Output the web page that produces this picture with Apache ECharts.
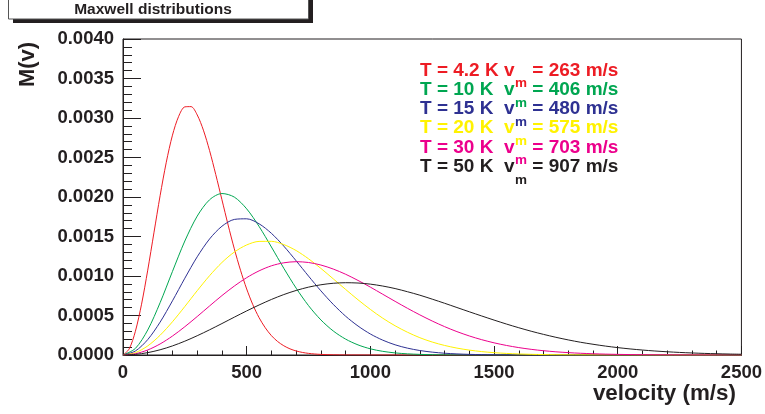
<!DOCTYPE html>
<html>
<head>
<meta charset="utf-8">
<script src="https://cdn.jsdelivr.net/npm/echarts@6/dist/echarts.min.js"></script>
<style>
  html, body { margin: 0; padding: 0; background: #fff; }
  #chart { width: 765px; height: 414px; }
</style>
</head>
<body>
<div id="chart"></div>
<script>
// Speeds (m/s) at which the distributions are sampled
const velocity = [
  0, 50, 100, 150, 200, 250, 300, 350, 400, 450,
  500, 550, 600, 650, 700, 750, 800, 850, 900, 950,
  1000, 1050, 1100, 1150, 1200, 1250, 1300, 1350, 1400, 1450,
  1500, 1550, 1600, 1650, 1700, 1750, 1800, 1850, 1900, 1950,
  2000, 2050, 2100, 2150, 2200, 2250, 2300, 2350, 2400, 2450, 2500
];
// the narrow 4.2 K curve is sampled more finely
const velocityCold = [
  0, 25, 50, 75, 100, 125, 150, 175, 200, 225,
  250, 275, 300, 325, 350, 375, 400, 425, 450, 475,
  500, 525, 550, 575, 600, 625, 650, 675, 700, 725,
  750, 775, 800, 850, 900, 950, 1000, 1500, 2000, 2500
];

// M(v) for each temperature
const m_4K2 = [
  0, 0.0000768, 0.000299, 0.000643, 0.001074, 0.001546, 0.002016, 0.002440, 0.002783, 0.003021,
  0.003141, 0.003144, 0.003039, 0.002846, 0.002587, 0.002284, 0.001965, 0.001645, 0.001344, 0.001073,
  0.000836, 0.000636, 0.000473, 0.000345, 0.000245, 0.000171, 0.000117, 0.0000779, 0.0000509, 0.0000327,
  0.0000205, 0.0000127, 0.0000076, 0.0000026, 0.0000008, 0.0000002, 0, 0, 0, 0
];
const m_10K = [
  0, 0.0000830, 0.000317, 0.000662, 0.001058, 0.001443, 0.001758, 0.001965, 0.002044, 0.001999,
  0.001850, 0.001628, 0.001367, 0.001098, 0.000846, 0.000625, 0.000444, 0.000304, 0.000201, 0.000128,
  0.0000782, 0.0000463, 0.0000265, 0.0000146, 0.0000078, 0.000004, 0.000002, 0.000001, 0, 0,
  0, 0, 0, 0, 0, 0, 0, 0, 0, 0,
  0, 0, 0, 0, 0, 0, 0, 0, 0, 0, 0
];
const m_15K = [
  0, 0.0000505, 0.000195, 0.000416, 0.000686, 0.000972, 0.001243, 0.001469, 0.001630, 0.001716,
  0.001724, 0.001661, 0.001540, 0.001378, 0.001192, 0.000999, 0.000812, 0.000641, 0.000491, 0.000367,
  0.000266, 0.000188, 0.000129, 0.0000867, 0.0000567, 0.0000362, 0.0000225, 0.0000137, 0.0000081, 0.0000047,
  0.0000026, 0.0000014, 0.0000007, 0, 0, 0, 0, 0, 0, 0,
  0, 0, 0, 0, 0, 0, 0, 0, 0, 0, 0
];
const m_20K = [
  0, 0.0000295, 0.000115, 0.000250, 0.000421, 0.000614, 0.000814, 0.001004, 0.001171, 0.001303,
  0.001393, 0.001438, 0.001439, 0.001398, 0.001322, 0.001218, 0.001096, 0.000964, 0.000830, 0.000699,
  0.000577, 0.000466, 0.000370, 0.000288, 0.000219, 0.000164, 0.000121, 0.0000874, 0.0000620, 0.0000432,
  0.0000296, 0.0000199, 0.0000132, 0.0000086, 0.0000055, 0.0000034, 0.0000021, 0.0000013, 0.0000008, 0.0000005,
  0.0000003, 0.0000002, 0.0000001, 0, 0, 0, 0, 0, 0, 0, 0
];
const m_30K = [
  0, 0.0000162, 0.0000637, 0.000140, 0.000240, 0.000358, 0.000487, 0.000621, 0.000752, 0.000873,
  0.000979, 0.001065, 0.001129, 0.001167, 0.001181, 0.001171, 0.001139, 0.001088, 0.001022, 0.000944,
  0.000859, 0.000769, 0.000679, 0.000591, 0.000508, 0.000430, 0.000359, 0.000296, 0.000241, 0.000194,
  0.000154, 0.000121, 0.0000937, 0.0000717, 0.0000542, 0.0000405, 0.0000299, 0.0000219, 0.0000158, 0.0000112,
  0.0000079, 0.0000055, 0.0000038, 0.0000026, 0.0000018, 0.0000012, 0.0000008, 0.0000005, 0.0000003, 0.0000002, 0.0000001
];
const m_50K = [
  0, 0.0000075, 0.0000299, 0.0000662, 0.000115, 0.000175, 0.000244, 0.000319, 0.000398, 0.000479,
  0.000558, 0.000633, 0.000703, 0.000765, 0.000817, 0.000859, 0.000889, 0.000908, 0.000915, 0.000911,
  0.000897, 0.000873, 0.000841, 0.000801, 0.000757, 0.000707, 0.000655, 0.000601, 0.000547, 0.000494,
  0.000442, 0.000392, 0.000345, 0.000301, 0.000261, 0.000224, 0.000191, 0.000161, 0.000136, 0.000113,
  0.0000935, 0.0000769, 0.0000627, 0.0000507, 0.0000408, 0.0000326, 0.0000258, 0.0000203, 0.0000159, 0.0000123, 0.0000095
];

const curves = [
  { v: velocityCold, m: m_4K2 },
  { v: velocity, m: m_10K },
  { v: velocity, m: m_15K },
  { v: velocity, m: m_20K },
  { v: velocity, m: m_30K },
  { v: velocity, m: m_50K }
];
const temperatures = ['4.2', '10', '15', '20', '30', '50'];
const mostProbable = ['263', '406', '480', '575', '703', '907'];
const colors = ['#ed1c24', '#00a651', '#2e3192', '#fff200', '#ec008c', '#231f20'];

const INK = '#231f20';
const FONT = '"Liberation Sans", Arial, Helvetica, sans-serif';

// text measurement for placing the subscript in the annotation lines
const measureCtx = document.createElement('canvas').getContext('2d');
function textWidth(str, size) {
  measureCtx.font = 'bold ' + size + 'px ' + FONT;
  return measureCtx.measureText(str).width;
}

const chart = echarts.init(document.getElementById('chart'), null, { renderer: 'canvas' });

// annotation block: "T = x K  v_m = y m/s"
const MAIN = 19, SUB = 13.5;
const notes = [];
temperatures.forEach((t, i) => {
  const head = 'T = ' + t + ' K' + (t.length > 2 ? ' ' : '  ') + 'v';
  const tail = ' = ' + mostProbable[i] + ' m/s';
  const x0 = 420;
  const base = 77 + i * 19.25;
  const w1 = textWidth(head, MAIN);
  const w2 = textWidth('m', SUB);
  const common = { fontWeight: 'bold', fontFamily: FONT, fill: colors[i], verticalAlign: 'middle', align: 'left' };
  notes.push({ type: 'text', x: x0, y: base - 0.35 * MAIN, style: Object.assign({ text: head, fontSize: MAIN }, common) });
  notes.push({ type: 'text', x: x0 + w1 + 0.5, y: base + 11.5 - 0.35 * SUB, style: Object.assign({ text: 'm', fontSize: SUB }, common) });
  notes.push({ type: 'text', x: x0 + w1 + w2 + 0.5, y: base - 0.35 * MAIN, style: Object.assign({ text: tail, fontSize: MAIN }, common) });
});

const option = {
  backgroundColor: '#ffffff',
  animation: false,
  grid: {
    left: 123, right: 23, top: 39, bottom: 59,
    show: true, borderColor: INK, borderWidth: 1, backgroundColor: 'transparent'
  },
  xAxis: {
    type: 'value', min: 0, max: 2500, interval: 500,
    axisLine: { show: true, onZero: false, lineStyle: { color: INK, width: 1 } },
    axisTick: { show: true, inside: true, length: 9, lineStyle: { color: INK, width: 1 } },
    minorTick: { show: true, splitNumber: 5, length: 4.5, lineStyle: { color: INK, width: 1 } },
    splitLine: { show: false },
    axisLabel: {
      color: INK, fontSize: 18.5, fontWeight: 'bold', fontFamily: FONT, margin: 8,
      formatter: v => String(v)
    }
  },
  yAxis: {
    type: 'value', min: 0, max: 0.004, interval: 0.0005,
    axisLine: { show: true, onZero: false, lineStyle: { color: INK, width: 1 } },
    axisTick: { show: true, inside: true, length: 18, lineStyle: { color: INK, width: 1 } },
    minorTick: { show: true, splitNumber: 5, length: 9, lineStyle: { color: INK, width: 1 } },
    splitLine: { show: false },
    axisLabel: {
      color: INK, fontSize: 18.5, fontWeight: 'bold', fontFamily: FONT, margin: 9,
      formatter: v => v.toFixed(4)
    }
  },
  series: curves.map((c, i) => ({
    type: 'line',
    name: 'T = ' + temperatures[i] + ' K',
    data: c.v.map((v, j) => [v, c.m[j]]),
    showSymbol: false,
    smooth: 0.3,
    clip: true,
    lineStyle: { color: colors[i], width: 1 },
    z: 2 + i
  })),
  graphic: [
    // title box with drop shadow
    { type: 'rect', shape: { x: 13, y: -6, width: 300, height: 29 }, style: { fill: INK }, z: 100 },
    { type: 'rect', shape: { x: 8.5, y: -10, width: 300, height: 29 }, style: { fill: '#ffffff', stroke: '#555555', lineWidth: 1 }, z: 101 },
    { type: 'text', x: 153, y: 9.5, z: 102,
      style: { text: 'Maxwell distributions', fontSize: 15.5, fontWeight: 'bold', fontFamily: FONT, fill: INK, align: 'center', verticalAlign: 'middle' } },
    // axis titles
    { type: 'text', x: 736, y: 394, z: 50,
      style: { text: 'velocity (m/s)', fontSize: 22.4, fontWeight: 'bold', fontFamily: FONT, fill: INK, align: 'right', verticalAlign: 'middle' } },
    { type: 'text', x: 28, y: 64.5, rotation: Math.PI / 2, z: 50,
      style: { text: 'M(v)', fontSize: 22, fontWeight: 'bold', fontFamily: FONT, fill: INK, align: 'center', verticalAlign: 'middle' } }
  ].concat(notes)
};

chart.setOption(option);
</script>
</body>
</html>
